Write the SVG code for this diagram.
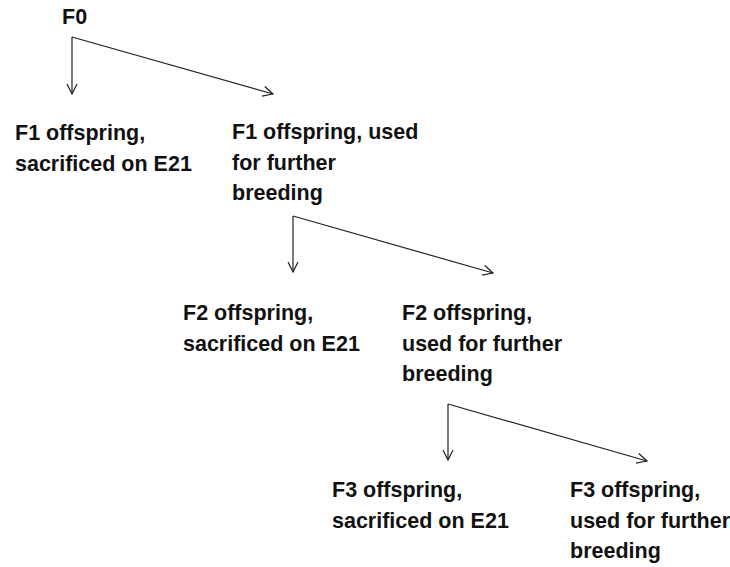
<svg xmlns="http://www.w3.org/2000/svg" width="730" height="567" viewBox="0 0 730 567">
<defs>
<style>
text{font-family:"Liberation Sans",Arial,sans-serif;font-weight:bold;font-size:21.5px;fill:#111;}
.c{fill:none;stroke:#222;stroke-width:1.2;}
</style>
<marker id="ah" viewBox="0 0 12 12" refX="11" refY="6" markerWidth="12" markerHeight="12" markerUnits="userSpaceOnUse" orient="auto">
<path d="M1,1 L11,6 L1,11" fill="none" stroke="#222" stroke-width="1.2"/>
</marker>
</defs>
<rect width="730" height="567" fill="#fff"/>
<g id="connectors">
<path class="c" d="M72,37 L72,94" marker-end="url(#ah)"/>
<path class="c" d="M72,37 L273,94" marker-end="url(#ah)"/>
<path class="c" d="M293,216 L293,272" marker-end="url(#ah)"/>
<path class="c" d="M293,216 L493,273" marker-end="url(#ah)"/>
<path class="c" d="M448,404 L448,460" marker-end="url(#ah)"/>
<path class="c" d="M448,404 L647,461" marker-end="url(#ah)"/>
</g>
<g id="F0"><text x="62" y="24">F0</text></g>
<g id="F1-sacrificed"><text x="15" y="140">F1 offspring,</text><text x="15" y="171">sacrificed on E21</text></g>
<g id="F1-breeding"><text x="232" y="139">F1 offspring, used</text><text x="232" y="170">for further</text><text x="232" y="200">breeding</text></g>
<g id="F2-sacrificed"><text x="183" y="320">F2 offspring,</text><text x="183" y="351">sacrificed on E21</text></g>
<g id="F2-breeding"><text x="402" y="320">F2 offspring,</text><text x="402" y="351">used for further</text><text x="402" y="381">breeding</text></g>
<g id="F3-sacrificed"><text x="332" y="497">F3 offspring,</text><text x="332" y="528">sacrificed on E21</text></g>
<g id="F3-breeding"><text x="570" y="497">F3 offspring,</text><text x="570" y="528">used for further</text><text x="570" y="558">breeding</text></g>
</svg>
